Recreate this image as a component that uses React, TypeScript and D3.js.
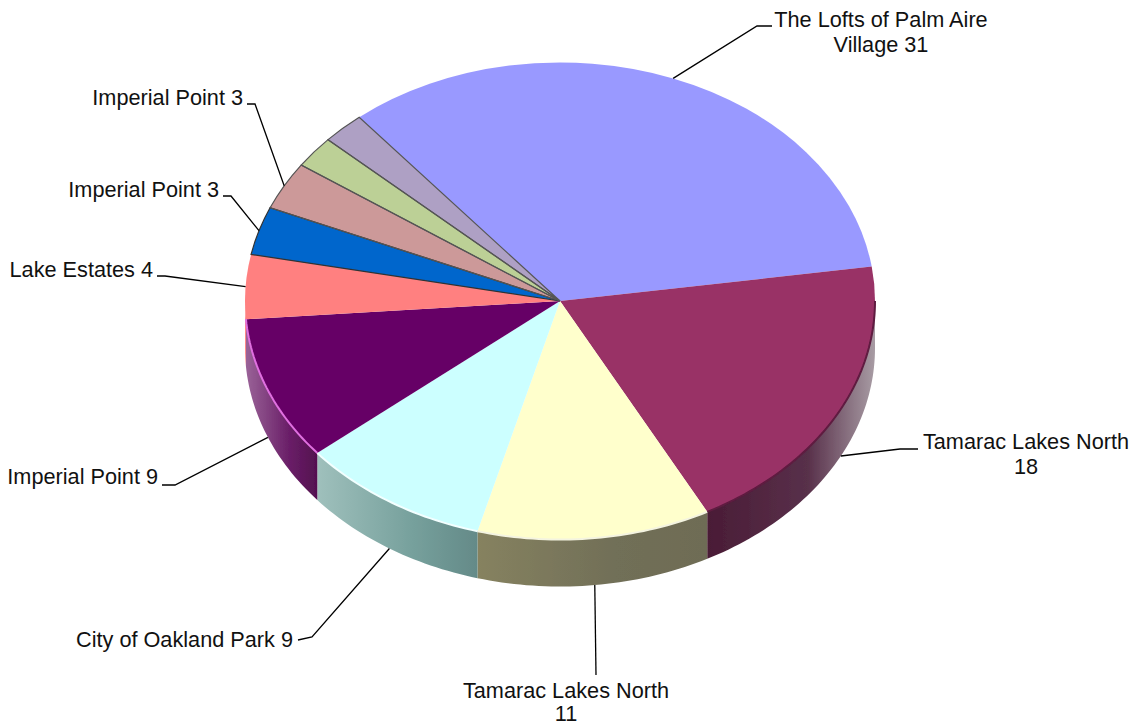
import React from "react";
import * as d3 from "d3";

const sliceNames = [
  "The Lofts of Palm Aire Village",
  "Tamarac Lakes North",
  "Tamarac Lakes North",
  "City of Oakland Park",
  "Imperial Point",
  "Lake Estates",
  "Imperial Point",
  "Imperial Point",
  "",
  "",
];
const sliceValues = [31, 18, 11, 9, 9, 4, 3, 3, 2, 2];
const topColors = ["#9999ff", "#993366", "#ffffcc", "#ccffff", "#660066", "#ff8080", "#0066cc", "#cc9999", "#bcd096", "#aea0c4"];
const wallLeft = ["#9999ff", "#4a1c36", "#86825f", "#9fc0bc", "#9a6398", "#ff8080", "#0066cc", "#cc9999", "#bcd096", "#aea0c4"];
const wallMid = ["#9999ff", "#58304a", "#716f58", "#76a09c", "#6a1f68", "#ff8080", "#0066cc", "#cc9999", "#bcd096", "#aea0c4"];
const wallRight = ["#9999ff", "#a89ca4", "#6e6c54", "#648a88", "#541050", "#ff8080", "#0066cc", "#cc9999", "#bcd096", "#aea0c4"];
const rimColors = ["none", "#5e1a40", "#f4f4e0", "#f2ffff", "#e070e0", "none", "none", "none", "none", "none"];
const edgeColors = ["none", "none", "none", "none", "none", "none", "#333", "#555", "#555", "#555"];

const CX = 560, CY = 301, RX = 315, RY = 238.5, DEPTH = 47;
const START = (-39.6 * Math.PI) / 180;
const FRONT_A = Math.PI / 2, FRONT_B = (3 * Math.PI) / 2;

const pieGen = d3.pie<number>().sort(null).startAngle(START).endAngle(START + 2 * Math.PI);
const arcs = pieGen(sliceValues);
const arcGen = d3.arc<any>().innerRadius(0).outerRadius(RX);
const px = (a: number) => CX + RX * Math.sin(a);
const py = (a: number, d = 0) => CY - RY * Math.cos(a) + d;
const curve = d3.line<[number, number]>();

function samples(a0: number, a1: number) {
  const n = Math.max(2, Math.ceil(Math.abs(a1 - a0) / 0.02));
  return d3.range(n + 1).map((i) => a0 + ((a1 - a0) * i) / n);
}
function wallPath(a0: number, a1: number) {
  const s = samples(a0, a1);
  const pts: [number, number][] = [
    ...s.map((a) => [px(a), py(a)] as [number, number]),
    ...s.slice().reverse().map((a) => [px(a), py(a, DEPTH)] as [number, number]),
  ];
  return curve(pts) + "Z";
}
function rimPath(a0: number, a1: number) {
  return curve(samples(a0, a1).map((a) => [px(a), py(a)] as [number, number])) as string;
}

// label layout: slice index, elbow points, text lines, anchor
const labels: { i: number; elbow: [number, number][]; lines: string[]; x: number; y: number; anchor: string; gap?: number }[] = [
  { i: 0, elbow: [[757, 26], [772, 26]], lines: ["The Lofts of Palm Aire", "Village 31"], x: 881, y: 27, anchor: "middle" },
  { i: 1, elbow: [[900, 449], [918, 449]], lines: ["Tamarac Lakes North", "18"], x: 1026, y: 449, anchor: "middle" },
  { i: 2, elbow: [[596, 675]], lines: ["Tamarac Lakes North", "11"], x: 566, y: 698, anchor: "middle", gap: 23 },
  { i: 3, elbow: [[312, 637], [298, 640]], lines: ["City of Oakland Park 9"], x: 293, y: 647, anchor: "end" },
  { i: 4, elbow: [[175, 485], [162, 485]], lines: ["Imperial Point 9"], x: 158, y: 484, anchor: "end" },
  { i: 5, elbow: [[165, 276], [157, 276]], lines: ["Lake Estates 4"], x: 153, y: 277, anchor: "end" },
  { i: 6, elbow: [[231, 196], [223, 196]], lines: ["Imperial Point 3"], x: 219, y: 197, anchor: "end" },
  { i: 7, elbow: [[255, 104], [247, 104]], lines: ["Imperial Point 3"], x: 243, y: 105, anchor: "end" },
];

export default function App() {
  return (
    <svg
      width={1137}
      height={724}
      style={{ position: "absolute", left: 0, top: 0, background: "#fff" }}
      fontFamily="'Liberation Sans', Arial, sans-serif"
    >
      <defs>
        <filter id="soft" x="-5%" y="-5%" width="110%" height="110%">
          <feGaussianBlur stdDeviation="0.7" />
        </filter>
        {arcs.map((d, i) => {
          const a0 = Math.max(d.startAngle, FRONT_A);
          const a1 = Math.min(d.endAngle, FRONT_B);
          if (a1 <= a0) return null;
          const xa = Math.min(px(a0), px(a1));
          const xb = Math.max(px(a0), px(a1));
          return (
            <linearGradient key={i} id={`wall${i}`} gradientUnits="userSpaceOnUse" x1={xa} x2={xb} y1={0} y2={0}>
              <stop offset="0" stopColor={wallLeft[i]} />
              <stop offset="0.6" stopColor={wallMid[i]} />
              <stop offset="1" stopColor={wallRight[i]} />
            </linearGradient>
          );
        })}
      </defs>
      <g filter="url(#soft)">
        {arcs.map((d, i) => {
          const a0 = Math.max(d.startAngle, FRONT_A);
          const a1 = Math.min(d.endAngle, FRONT_B);
          if (a1 <= a0) return null;
          return <path key={i} d={wallPath(a0, a1)} fill={`url(#wall${i})`} />;
        })}
        <g transform={`translate(${CX},${CY}) scale(1,${RY / RX})`}>
          {arcs.map((d, i) => (
            <path key={i} d={arcGen(d) as string} fill={topColors[i]} />
          ))}
          {arcs.map((d, i) =>
            edgeColors[i] === "none" ? null : (
              <path
                key={i}
                d={arcGen(d) as string}
                fill="none"
                stroke={edgeColors[i]}
                strokeWidth={1.2}
                vectorEffect="non-scaling-stroke"
              />
            )
          )}
        </g>
        {arcs.map((d, i) => {
          const a0 = Math.max(d.startAngle, FRONT_A);
          const a1 = Math.min(d.endAngle, FRONT_B);
          if (a1 <= a0 || rimColors[i] === "none") return null;
          return <path key={i} d={rimPath(a0, a1)} fill="none" stroke={rimColors[i]} strokeWidth={2} />;
        })}
      </g>
      {labels.map((l) => {
        const d = arcs[l.i];
        const mid = (d.startAngle + d.endAngle) / 2;
        const front = Math.cos(mid) < 0 && Math.sin(mid) > -0.95;
        const anchor: [number, number] = [px(mid), py(mid, front ? DEPTH : 0)];
        return (
          <g key={l.i}>
            <path d={curve([anchor, ...l.elbow]) as string} fill="none" stroke="#000" strokeWidth={1.3} />
            <text fontSize={21.7} fill="#111" textAnchor={l.anchor}>
              {l.lines.map((t, k) => (
                <tspan key={k} x={l.x} y={l.y + k * (l.gap ?? 25)}>
                  {t}
                </tspan>
              ))}
            </text>
          </g>
        );
      })}
    </svg>
  );
}
